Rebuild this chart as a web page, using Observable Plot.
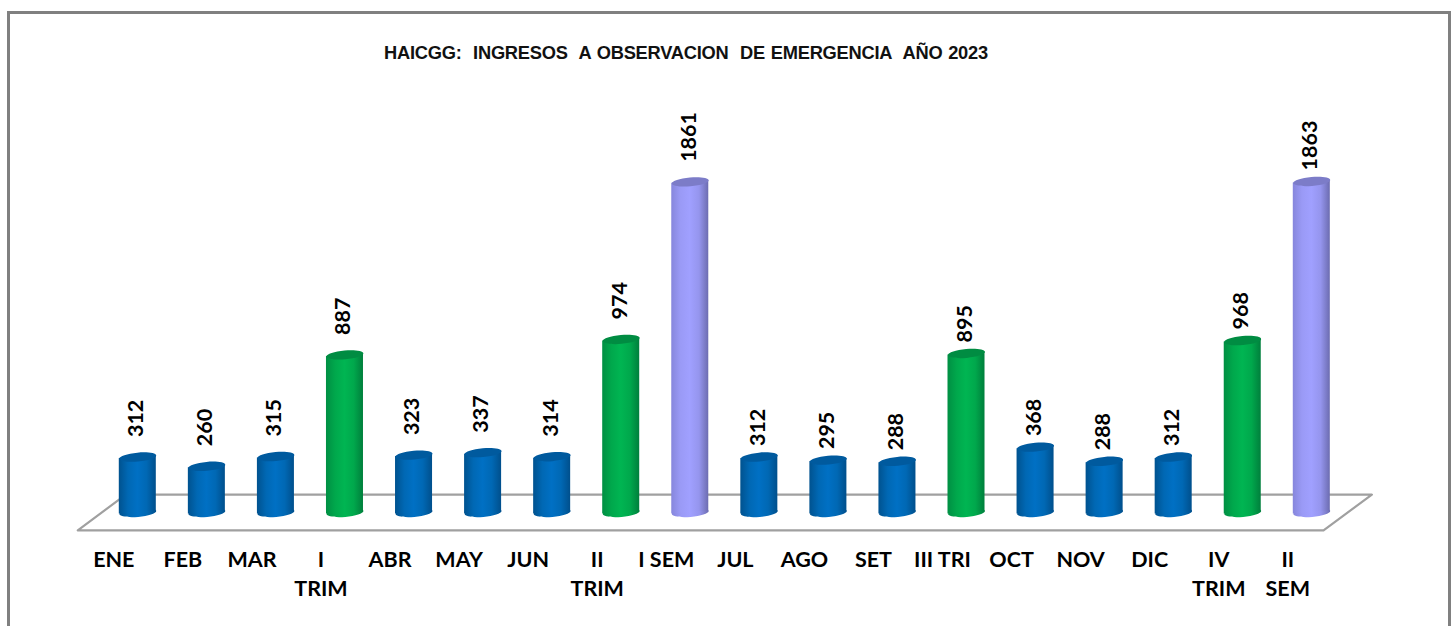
<!DOCTYPE html>
<html>
<head>
<meta charset="utf-8">
<script src="https://cdn.jsdelivr.net/npm/d3@7"></script>
<script src="https://cdn.jsdelivr.net/npm/@observablehq/plot@0.6"></script>
<style>
html,body{margin:0;padding:0;background:#fff;width:1456px;height:626px;overflow:hidden}
#wrap{position:relative;width:1456px;height:626px}
#frame{position:absolute;left:7px;top:11px;width:1438px;height:620px;border:3px solid #808080;border-bottom:none;box-sizing:content-box}
#title{position:absolute;left:384px;top:42px;width:640px;font:bold 18.3px "Liberation Sans",Arial,sans-serif;color:#111;white-space:pre;word-spacing:1px;letter-spacing:-.25px}
#chart{position:absolute;left:0;top:0}
#chart svg{display:block}
</style>
</head>
<body>
<div id="wrap">
<div id="frame"></div>
<div id="title">HAICGG:  INGRESOS  A OBSERVACION  DE EMERGENCIA  AÑO 2023</div>
<div id="chart"></div>
</div>
<script>
const categories = ["ENE","FEB","MAR","I\nTRIM","ABR","MAY","JUN","II\nTRIM","I SEM","JUL","AGO","SET","III TRI","OCT","NOV","DIC","IV\nTRIM","II\nSEM"];
const values = [312,260,315,887,323,337,314,974,1861,312,295,288,895,368,288,312,968,1863];
const kinds = ["m","m","m","t","m","m","m","t","s","m","m","m","t","m","m","m","t","s"];

const looks = {
  m: {id:"cyl-blue",   top:"#005a9e", stops:["#00528f","#0068b4","#0070c4","#0068b4","#004f8c"]},
  t: {id:"cyl-green",  top:"#008c42", stops:["#008f43","#00a84c","#00b552","#00a84c","#007f3c"]},
  s: {id:"cyl-purple", top:"#7c7cc8", stops:["#8686dc","#9a9af6","#a0a0ff","#9595ee","#6c6cb0"]}
};

const rows = values.map((v,i)=>({i,v,kind:kinds[i],label:categories[i]}));
const halfW = 0.268;    // half a bar, in category units
const tilt = 8.5;       // lean of the cylinder ends, in value units
const depth = 101;      // half the depth of the floor, in value units

const sideRows = rows.flatMap(d=>[
  {i:d.i,kind:d.kind,x:d.i-halfW,y1:-tilt,y2:d.v-tilt},
  {i:d.i,kind:d.kind,x:d.i+halfW,y1:tilt,y2:d.v+tilt}
]);
const floor = [
  {x:-0.869,y:-depth},{x:17.17,y:-depth},{x:17.87,y:depth},{x:-0.174,y:depth},{x:-0.869,y:-depth}
];

// Ellipse that leans upward to the right; the dot's r sets its half width.
const leanEllipse = {draw(ctx,size){
  const rx=Math.sqrt(size/Math.PI), ry=rx*0.24, a=-5*Math.PI/180, k=0.5523;
  const c=Math.cos(a), s=Math.sin(a);
  const P=(x,y)=>[x*c-y*s,x*s+y*c];
  ctx.moveTo(...P(rx,0));
  ctx.bezierCurveTo(...P(rx,k*ry),...P(k*rx,ry),...P(0,ry));
  ctx.bezierCurveTo(...P(-k*rx,ry),...P(-rx,k*ry),...P(-rx,0));
  ctx.bezierCurveTo(...P(-rx,-k*ry),...P(-k*rx,-ry),...P(0,-ry));
  ctx.bezierCurveTo(...P(k*rx,-ry),...P(rx,-k*ry),...P(rx,0));
  ctx.closePath();
}};

const gradients = () => {
  const defs = d3.create("svg:defs");
  for (const {id,stops} of Object.values(looks)) {
    const g = defs.append("linearGradient").attr("id",id).attr("x1",0).attr("x2",1).attr("y1",0).attr("y2",0);
    stops.forEach((c,k)=>g.append("stop").attr("offset",k/(stops.length-1)).attr("stop-color",c));
  }
  return defs.node();
};

const cylinders = Object.entries(looks).flatMap(([kind,{id,top}])=>{
  const r = rows.filter(d=>d.kind===kind);
  const s = sideRows.filter(d=>d.kind===kind);
  return [
    Plot.dot(r,{x:"i",y:()=>0,r:18.5,symbol:leanEllipse,fill:`url(#${id})`,stroke:"none"}),
    Plot.areaY(s,{x:"x",y1:"y1",y2:"y2",z:"i",fill:`url(#${id})`,stroke:"none",curve:"linear"}),
    Plot.dot(r,{x:"i",y:"v",r:18.5,symbol:leanEllipse,fill:top,stroke:"none"})
  ];
});

const valueLabels = (subset,dy) => Plot.text(subset,{x:"i",y:"v",text:d=>String(d.v),rotate:-90,textAnchor:"start",dy,dx:-1.5,fontSize:21.5,fontWeight:"bold",fill:"#000"});

const plot = Plot.plot({
  width:1456,height:626,
  marginTop:0,marginRight:0,marginLeft:0,marginBottom:80,
  style:{background:"transparent",fontFamily:"Lato, 'Open Sans', sans-serif",color:"#000",overflow:"visible"},
  x:{type:"linear",domain:[0,17],range:[137.3,1311.3]},
  y:{type:"linear",domain:[0,1863],range:[512,181],axis:null},
  marks:[
    gradients,
    Plot.line(floor,{x:"x",y:"y",stroke:"#a0a0a0",strokeWidth:2.2}),
    ...cylinders,
    valueLabels(rows.slice(0,9),-20),
    valueLabels(rows.slice(9),-11),
    Plot.axisX({ticks:d3.range(categories.length),tickFormat:i=>categories[i],tickSize:0,tickPadding:0,dx:-24,label:null,lineAnchor:"top",lineHeight:1.35,fontSize:21.5,fontWeight:"bold",fill:"#000"})
  ]
});
document.getElementById("chart").appendChild(plot);
</script>
</body>
</html>
